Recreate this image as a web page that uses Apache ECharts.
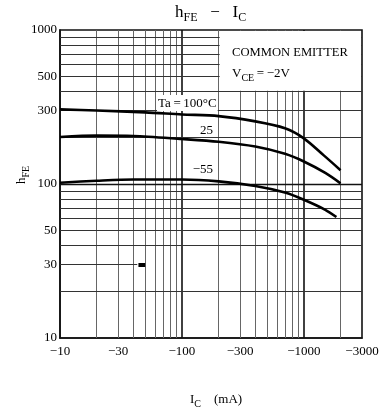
<!DOCTYPE html>
<html>
<head>
<meta charset="utf-8">
<script src="https://cdn.jsdelivr.net/npm/echarts@6/dist/echarts.min.js"></script>
<style>
html, body { margin: 0; padding: 0; background: #fff; }
#container { width: 382px; height: 413px; }
</style>
</head>
<body>
<div id="container"></div>
<script>
// tick labels
var xTicks = [10, 30, 100, 300, 1000, 3000];
var yTicks = [10, 30, 50, 100, 300, 500, 1000];
// grid lines
var xMinorGrid = [20, 30, 40, 50, 60, 70, 80, 90, 200, 300, 400, 500, 600, 700, 800, 900, 2000];
var xMajorGrid = [100, 1000];
var yMinorGrid = [20, 40, 50, 60, 70, 80, 90, 200, 300, 400, 500, 600, 700, 800, 900];
var yMajorGrid = [100];
// the hFE = 30 line is only printed on its left part in the scan
var y30Line = [10, 43];
var y30Block = [44, 50];
// curves, Ic (mA, magnitude) vs hFE
var ic100 = [10, 20, 50, 100, 200, 400, 700, 1000, 1450, 2000];
var hfe100 = [305, 300, 292, 283, 276, 255, 230, 198, 154, 123];
var ic25 = [10, 20, 40, 100, 200, 400, 700, 1000, 1500, 2000];
var hfe25 = [202, 206, 205, 196, 188, 175, 157, 140, 118, 101];
var icM55 = [10, 20, 40, 100, 200, 400, 700, 1000, 1500, 1850];
var hfeM55 = [102, 105, 107, 107, 104, 97, 88, 79, 68, 61];

var FONT = '"Liberation Serif", "DejaVu Serif", serif';

var dom = document.getElementById('container');
var myChart = echarts.init(dom);

function pairs(xs, ys) {
    var out = [];
    for (var i = 0; i < xs.length; i++) out.push([xs[i], ys[i]]);
    return out;
}

var gridLines = [];
xMinorGrid.forEach(function (v) {
    gridLines.push({ xAxis: v, lineStyle: { color: '#666', width: 1, type: 'solid' } });
});
xMajorGrid.forEach(function (v) {
    gridLines.push({ xAxis: v, lineStyle: { color: '#111', width: 1.6, type: 'solid' } });
});
yMinorGrid.forEach(function (v) {
    gridLines.push({ yAxis: v, lineStyle: { color: '#333', width: 1, type: 'solid' } });
});
yMajorGrid.forEach(function (v) {
    gridLines.push({ yAxis: v, lineStyle: { color: '#111', width: 1.4, type: 'solid' } });
});
gridLines.push([
    { coord: [y30Line[0], 30], lineStyle: { color: '#333', width: 1, type: 'solid' } },
    { coord: [y30Line[1], 30] }
]);
gridLines.push([
    { coord: [y30Block[0], 30], lineStyle: { color: '#000', width: 4, type: 'solid' } },
    { coord: [y30Block[1], 30] }
]);

function curve(name, xs, ys) {
    return {
        name: name,
        type: 'line',
        data: pairs(xs, ys),
        smooth: 0.3,
        showSymbol: false,
        symbol: 'none',
        z: 10,
        lineStyle: { color: '#000', width: 2.6 },
        animation: false
    };
}

var option = {
    animation: false,
    grid: { left: 60, right: 20, top: 30, bottom: 75, show: true, borderColor: '#111', borderWidth: 1.6 },
    xAxis: {
        type: 'log',
        min: 10,
        max: 3000,
        axisLine: { show: true, lineStyle: { color: '#111', width: 1.6 } },
        axisTick: { show: false },
        splitLine: { show: false },
        axisLabel: {
            customValues: xTicks,
            formatter: function (v) { return '\u2212' + v; },
            color: '#000',
            fontFamily: FONT,
            fontSize: 13,
            margin: 7
        }
    },
    yAxis: {
        type: 'log',
        min: 10,
        max: 1000,
        axisLine: { show: true, lineStyle: { color: '#111', width: 1.6 } },
        axisTick: { show: false },
        splitLine: { show: false },
        axisLabel: {
            customValues: yTicks,
            formatter: function (v) { return String(v); },
            color: '#000',
            fontFamily: FONT,
            fontSize: 13,
            margin: 3
        }
    },
    series: [
        {
            name: 'grid',
            type: 'line',
            data: [],
            z: 1,
            silent: true,
            markLine: {
                silent: true,
                z: 1,
                symbol: 'none',
                label: { show: false },
                animation: false,
                data: gridLines
            }
        },
        curve('Ta=100', ic100, hfe100),
        curve('25', ic25, hfe25),
        curve('-55', icM55, hfeM55)
    ]
};

myChart.setOption(option);

// white panel behind the legend text, bounded by grid lines 200 mA and hFE 400
var p0 = myChart.convertToPixel({ gridIndex: 0 }, [200, 1000]);
var p1 = myChart.convertToPixel({ gridIndex: 0 }, [3000, 400]);

var sub = { fontSize: 10, fontFamily: FONT, padding: [9, 0, 0, 0], fill: '#000' };

myChart.setOption({
    graphic: [
        {
            type: 'rect', z: 3,
            shape: { x: p0[0] + 1, y: p0[1] + 1, width: p1[0] - p0[0] - 2, height: p1[1] - p0[1] - 1.5 },
            style: { fill: '#fff' }
        },
        {
            type: 'text', z: 4, x: 157, y: 95,
            style: { text: 'Ta\u2009=\u2009100\u00b0C', font: '13px ' + FONT, fill: '#000',
                backgroundColor: '#fff', padding: [2, 1, 1, 1] }
        },
        {
            type: 'text', z: 12, x: 213, y: 124,
            style: { text: '25', font: '13px ' + FONT, fill: '#000', align: 'right' }
        },
        {
            type: 'text', z: 12, x: 213, y: 163,
            style: { text: '\u221255', font: '13px ' + FONT, fill: '#000', align: 'right' }
        },
        {
            type: 'text', z: 12, x: 232, y: 46,
            style: { text: 'COMMON EMITTER', font: '12.6px ' + FONT, fill: '#000' }
        },
        {
            type: 'text', z: 12, x: 232, y: 64,
            style: {
                text: '{a|V}{b|CE}{a|\u2009=\u2009\u22122V}',
                rich: { a: { fontSize: 13, fontFamily: FONT, fill: '#000' }, b: sub }
            }
        },
        {
            type: 'text', z: 12, x: 175, y: 2,
            style: {
                text: '{a|h}{b|FE}{a|   \u2212   I}{b|C}',
                rich: { a: { fontSize: 17, fontFamily: FONT, fill: '#000' },
                        b: { fontSize: 12, fontFamily: FONT, padding: [10, 0, 0, 0], fill: '#000' } }
            }
        },
        {
            type: 'text', z: 12, x: 190, y: 390,
            style: {
                text: '{a|I}{b|C}{a|    (mA)}',
                rich: { a: { fontSize: 13, fontFamily: FONT, fill: '#000' }, b: sub }
            }
        },
        {
            type: 'text', z: 12, x: 12, y: 184, rotation: Math.PI / 2,
            style: {
                text: '{a|h}{b|FE}',
                rich: { a: { fontSize: 13, fontFamily: FONT, fill: '#000' }, b: sub }
            }
        }
    ]
});
</script>
</body>
</html>
